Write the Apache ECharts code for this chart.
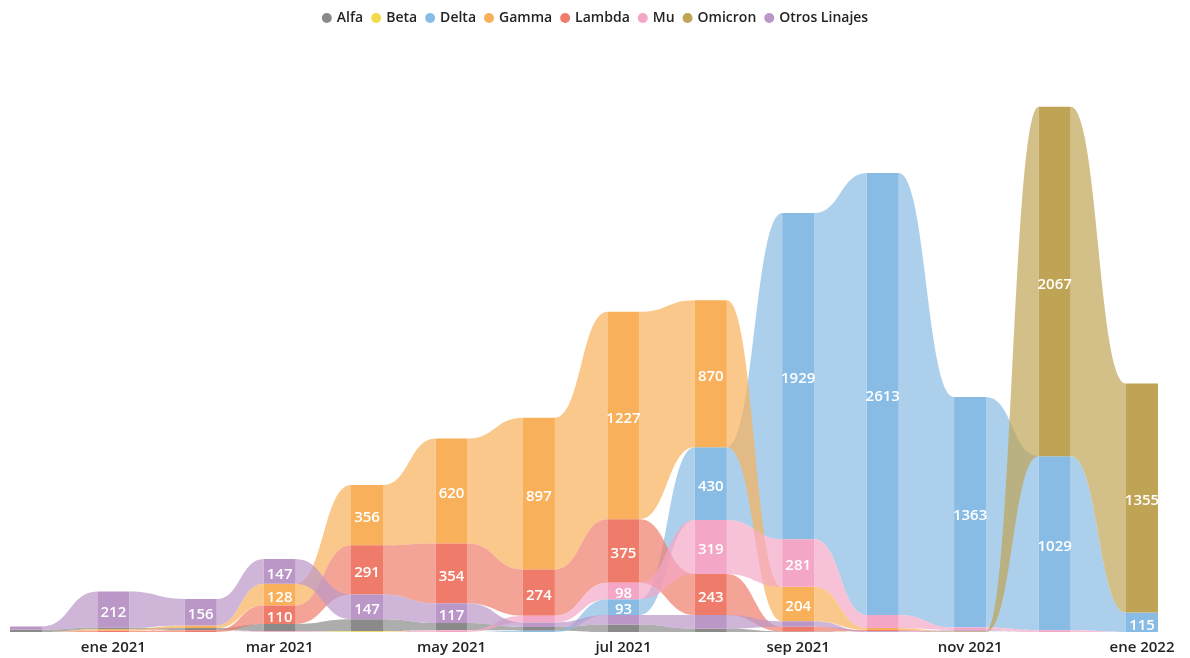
<!DOCTYPE html>
<html><head><meta charset="utf-8">
<script src="https://cdn.jsdelivr.net/npm/echarts@6/dist/echarts.min.js"></script>
<style>html,body{margin:0;padding:0;background:#fff}#c{width:1190px;height:658px}</style>
</head><body><div id="c"></div>
<script>
const months = ['2020-12','2021-01','2021-02','2021-03','2021-04','2021-05','2021-06','2021-07','2021-08','2021-09','2021-10','2021-11','2021-12','2022-01'];
const seriesNames = ['Alfa','Beta','Delta','Gamma','Lambda','Mu','Omicron','Otros Linajes'];
const alfa    = [14, 10, 12, 42, 70, 43, 22, 45, 20, 3, 0, 0, 0, 0];
const beta    = [0, 0, 0, 0, 5, 0, 0, 0, 0, 0, 0, 0, 0, 0];
const delta   = [0, 0, 0, 0, 0, 0, 8, 93, 430, 1929, 2613, 1363, 1029, 115];
const gamma   = [0, 9, 16, 128, 356, 620, 897, 1227, 870, 204, 11, 0, 0, 0];
const lambda  = [0, 8, 11, 110, 291, 354, 274, 375, 243, 28, 8, 0, 0, 0];
const mu      = [0, 0, 0, 5, 0, 10, 40, 98, 319, 281, 78, 15, 10, 0];
const omicron = [0, 0, 0, 0, 0, 0, 0, 0, 0, 0, 0, 5, 2067, 1355];
const otros   = [18, 212, 156, 147, 147, 117, 26, 55, 80, 32, 4, 6, 0, 0];
const tickMonths = ['2021-01','2021-03','2021-05','2021-07','2021-09','2021-11','2022-01'];
const tickLabels = ['ene 2021','mar 2021','may 2021','jul 2021','sep 2021','nov 2021','ene 2022'];

const colors = ['#8A8A8A','#F2DB4B','#89BCE4','#F9B05A','#EF7C6B','#F3A6C6','#C0A455','#BA97C7'];
const values = [alfa, beta, delta, gamma, lambda, mu, omicron, otros];

const DAY = 86400000;
const origin = Date.UTC(2020, 11, 1);
function toDay(m){ const p = m.split('-'); return (Date.UTC(+p[0], +p[1]-1, 1) - origin) / DAY; }
const days = months.map(toDay);
const tickDays = tickMonths.map(toDay);

// stacking: smallest at bottom, largest on top
const n = months.length;
const stacks = values.map(() => []);
for (let i = 0; i < n; i++) {
  const order = values.map((v, s) => s).sort((a, b) => (values[a][i] - values[b][i]) || (b - a));
  let acc = 0;
  order.forEach(s => { const v = values[s][i]; stacks[s][i] = {y0: acc, y1: acc + v, v: v}; acc += v; });
}

function rgba(hex, a){
  const r = parseInt(hex.slice(1,3),16), g = parseInt(hex.slice(3,5),16), b = parseInt(hex.slice(5,7),16);
  return 'rgba(' + r + ',' + g + ',' + b + ',' + a + ')';
}

const HALF = 16;
const FONT = '"Open Sans", "Noto Sans", sans-serif';

function makeRender(s) {
  return function (params, api) {
    const i = params.dataIndex;
    const st = stacks[s][i];
    const xc = api.coord([days[i], 0])[0];
    const yTop = api.coord([days[i], st.y1])[1];
    const yBot = api.coord([days[i], st.y0])[1];
    const children = [];
    if (i < n - 1) {
      const st2 = stacks[s][i + 1];
      if (st.v > 0 || st2.v > 0) {
        const nx = api.coord([days[i + 1], 0])[0];
        const yTop2 = api.coord([days[i + 1], st2.y1])[1];
        const yBot2 = api.coord([days[i + 1], st2.y0])[1];
        const x0 = xc + HALF, x1 = nx - HALF, xm = (x0 + x1) / 2;
        const d = 'M' + x0 + ' ' + yTop + ' C' + xm + ' ' + yTop + ' ' + xm + ' ' + yTop2 + ' ' + x1 + ' ' + yTop2 +
                  ' L' + x1 + ' ' + yBot2 + ' C' + xm + ' ' + yBot2 + ' ' + xm + ' ' + yBot + ' ' + x0 + ' ' + yBot + ' Z';
        children.push({type: 'path', shape: {pathData: d}, style: {fill: rgba(colors[s], 0.7)}});
      }
    }
    if (st.v > 0) {
      children.push({type: 'rect', shape: {x: xc - HALF, y: yTop, width: HALF * 2, height: yBot - yTop}, style: {fill: colors[s]}});
      if (st.v >= 90) {
        children.push({type: 'text', z2: 10, style: {x: xc, y: (yTop + yBot) / 2 + 3, text: String(st.v), fill: '#ffffff',
          font: '600 15px ' + FONT, align: 'center', verticalAlign: 'middle'}});
      }
    }
    return {type: 'group', children: children};
  };
}

const chart = echarts.init(document.getElementById('c'), null, {renderer: 'canvas'});
chart.setOption({
  animation: false,
  color: colors,
  legend: {
    top: 6, left: 'center', icon: 'circle', itemWidth: 10, itemHeight: 10, itemGap: 8,
    selectedMode: false,
    textStyle: {fontFamily: FONT, fontSize: 14, fontWeight: 600, color: '#252423'},
    data: seriesNames
  },
  grid: {left: 10, right: 32, top: 57, bottom: 26},
  xAxis: {
    type: 'value', min: -16 / 2.8182, max: 396 + 16 / 2.8182,
    axisLine: {show: false}, axisTick: {show: false}, splitLine: {show: false},
    axisLabel: {
      customValues: tickDays, margin: 8,
      fontFamily: FONT, fontSize: 15, fontWeight: 600, color: '#252423',
      formatter: function (v) { const k = tickDays.findIndex(t => Math.abs(t - v) < 0.5); return k >= 0 ? tickLabels[k] : ''; }
    }
  },
  yAxis: {type: 'value', min: 0, max: 3400, show: false, splitLine: {show: false}},
  series: seriesNames.map((name, s) => ({
    name: name, type: 'custom', renderItem: makeRender(s),
    itemStyle: {color: colors[s]},
    data: days.map((d, i) => [d, values[s][i]]),
    encode: {x: 0, y: 1}, clip: false
  }))
});
</script></body></html>
